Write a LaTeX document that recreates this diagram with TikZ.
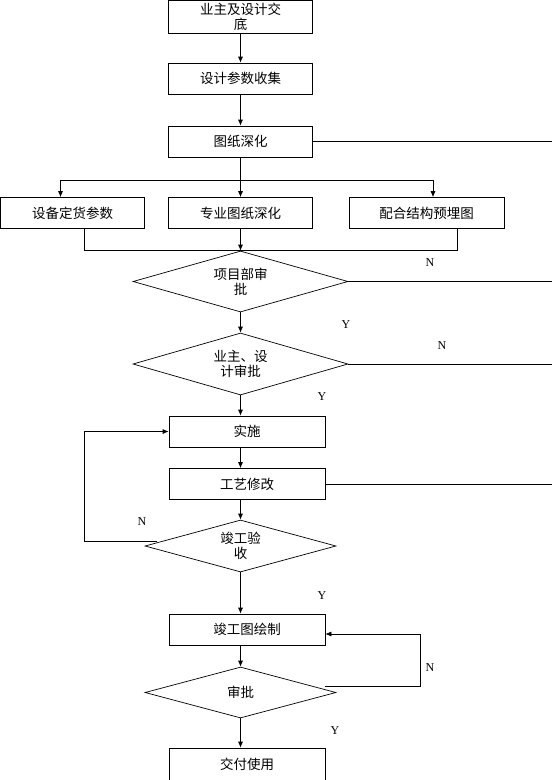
\documentclass[tikz,border=0pt]{standalone}
\usepackage{fontspec}
\setmainfont{Liberation Serif}
\newfontfamily\cjk{Noto Sans CJK SC}
\usepackage{tikz}
\usetikzlibrary{arrows.meta,positioning,shapes.geometric,calc}

\begin{document}
\begin{tikzpicture}[
  x=1pt, y=-1pt,
  font=\cjk\fontsize{13.5}{15}\selectfont,
  >={Latex[length=6pt,width=5pt]},
  line width=0.7pt,
  % Styles
  box/.style={draw,rectangle,minimum width=144pt,minimum height=31pt,inner sep=0pt,align=center},
  widebox/.style={box,minimum width=156pt},
  check/.style={draw,diamond,aspect=3.5,minimum width=215pt,minimum height=61pt,inner sep=0pt,align=center},
  smallcheck/.style={check,minimum width=191pt,minimum height=51pt},
  yesno/.style={font=\rmfamily\fontsize{12}{12}\selectfont,inner sep=0pt},
  arrowstyle/.style={->},
  ]
\useasboundingbox (0,0) rectangle (552,780);

% helper coordinates
\coordinate (edge) at (552,0);
\coordinate (spine) at (240.5,0);
\coordinate (loopL) at (84,0);
\coordinate (loopR) at (420,0);

%--- Design stage ---------------------------------------------------
\node[box, minimum height=33pt] (brief) at (240.5,16.5) {业主及设计交\\底};
\node[box] (collect) at (240.5,78.5) {设计参数收集};
\node[box] (deepen) at (240.5,141.5) {图纸深化};

% three parallel tasks
\node[box] (equip) at (72.5,213) {设备定货参数};
\node[box] (spec) at (240.5,213) {专业图纸深化};
\node[box, minimum width=155pt] (embed) at (426.5,213) {配合结构预埋图};

\draw[arrowstyle] (brief) -- (collect);
\draw[arrowstyle] (collect) -- (deepen);
\draw (deepen.east) -- (deepen.east -| edge);

% fork to the three tasks
\coordinate (fork) at (240.5,180);
\draw[arrowstyle] (deepen) -- (spec);
\draw[arrowstyle] (fork) -| ([xshift=-12pt]equip.north);
\draw[arrowstyle] (fork) -| ([xshift=6.5pt]embed.north);

% join below the tasks
\coordinate (join) at (240.5,250);
\draw ([xshift=12pt]equip.south) |- (join);
\draw ([xshift=30.5pt]embed.south) |- (join);

%--- Approvals ------------------------------------------------------
\node[check] (check1) at (240.5,281.5) {项目部审\\批};
\node[check, minimum height=62pt] (check2) at (240.5,364) {业主、设\\计审批};

\draw[arrowstyle] (spec) -- (check1);
\draw[arrowstyle] (check1) -- (check2);
\draw (check1.east) -- (check1.east -| edge);
\draw (check2.east) -- (check2.east -| edge);

\node[yesno] (n1) at (430,263) {N};
\node[yesno] (y1) at (346,325) {Y};
\node[yesno] (n2) at (442,346) {N};
\node[yesno] (y2) at (322,397) {Y};

%--- Construction ---------------------------------------------------
\node[widebox] (build) at (247,431.5) {实施};
\node[widebox] (modify) at (247,484) {工艺修改};
\node[smallcheck, minimum height=52pt] (accept) at (240.5,546) {竣工验\\收};

\draw[arrowstyle] (check2.south) -- (check2.south |- build.north);
\draw[arrowstyle] (build.south -| spine) -- (modify.north -| spine);
\draw[arrowstyle] (modify.south -| spine) -- (accept.north);
\draw (modify.east) -- (modify.east -| edge);

% back to construction when not accepted
\coordinate (failA) at ([shift={(12pt,5pt)}]accept.west);
\draw[arrowstyle] (failA) -- (failA -| loopL) |- (build.west);

\node[yesno] (n3) at (142,522) {N};
\node[yesno] (y3) at (322,596) {Y};

%--- Handover -------------------------------------------------------
\node[widebox] (asbuilt) at (247,629.5) {竣工图绘制};
\node[smallcheck] (approve) at (240.5,692.5) {审批};
\node[widebox, minimum height=32pt] (handover) at (247,764) {交付使用};

\draw[arrowstyle] (accept.south) -- (accept.south |- asbuilt.north);
\draw[arrowstyle] (asbuilt.south -| spine) -- (approve.north);
\draw[arrowstyle] (approve.south) -- (approve.south |- handover.north);

% redraw when not approved
\coordinate (failB) at ([shift={(-11pt,6pt)}]approve.east);
\draw[arrowstyle] (failB) -- (failB -| loopR) |- ([yshift=-4.5pt]asbuilt.east);

\node[yesno] (n4) at (430,668) {N};
\node[yesno] (y4) at (335,731) {Y};

\end{tikzpicture}
\end{document}
